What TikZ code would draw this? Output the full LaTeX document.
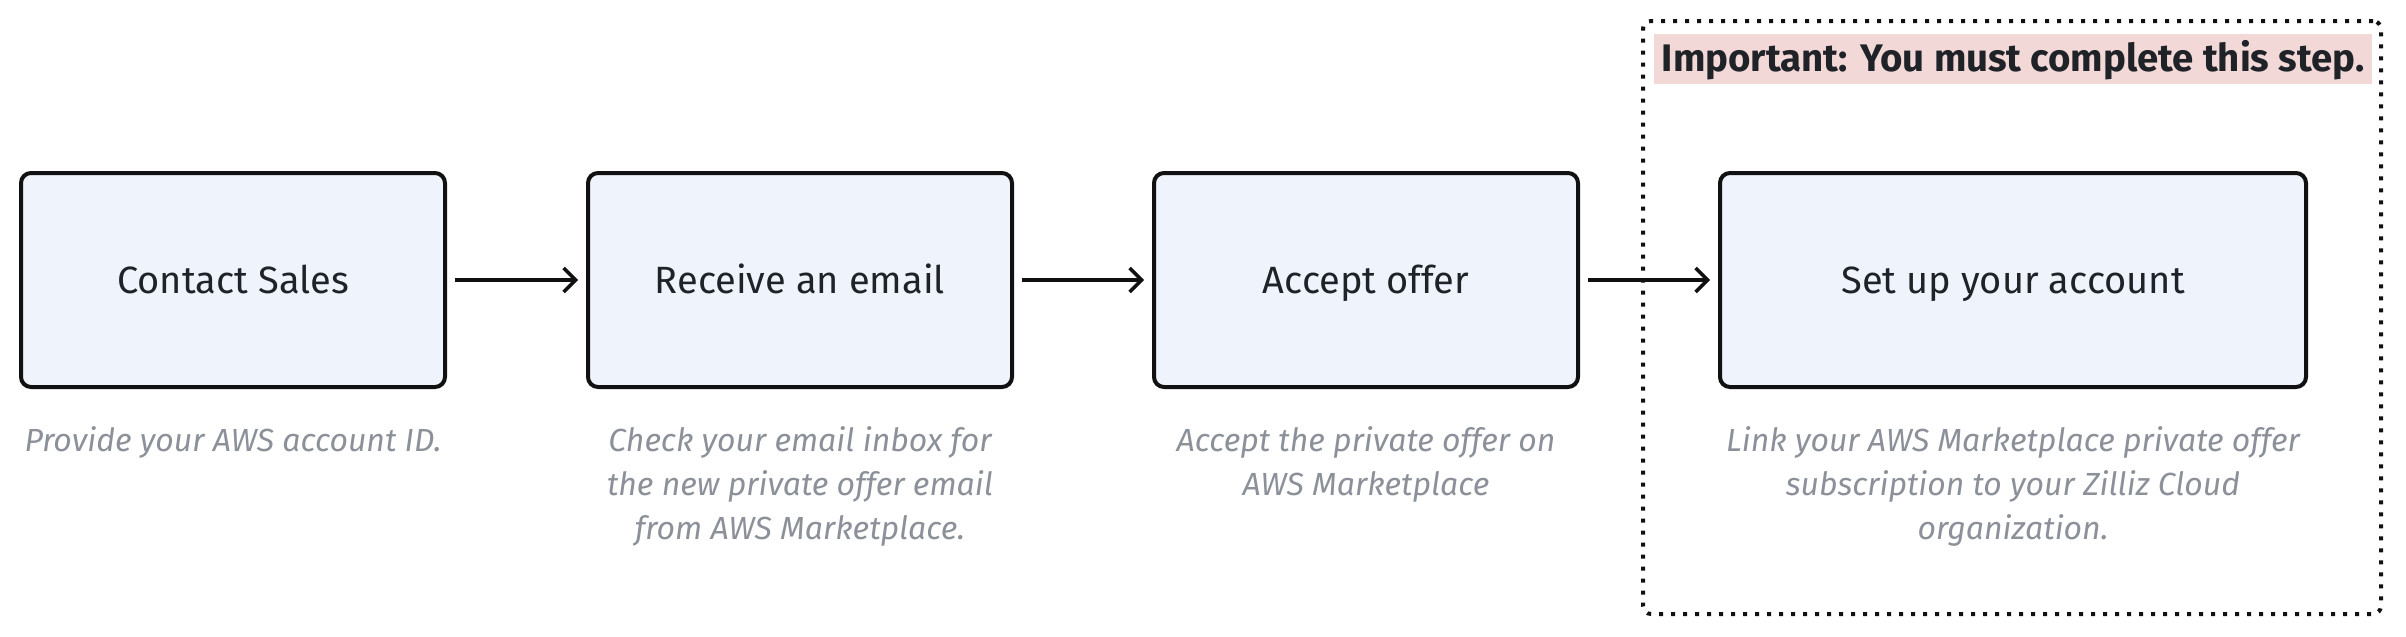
\documentclass[tikz,border=0pt]{standalone}
\usepackage{fontspec}
\setmainfont{Fira Sans}
\usetikzlibrary{arrows.meta}
\definecolor{boxfill}{HTML}{EEF3FC}
\definecolor{boxline}{HTML}{111111}
\definecolor{txt}{HTML}{1F2328}
\definecolor{desc}{HTML}{8B9099}
\definecolor{pinkbg}{HTML}{F3D8D8}
\tikzset{
  stepbox/.style={draw=boxline, line width=2pt, fill=boxfill, rounded corners=5pt,
    minimum height=107pt, text=txt, font=\fontsize{19}{23}\selectfont, inner sep=0pt,
    text height=13.1pt, text depth=0pt},
  descr/.style={text=desc, align=center, font=\itshape\fontsize{16}{22}\selectfont, inner sep=0pt},
  flow/.style={-{Straight Barb[length=6pt,width=12pt,line width=1.7pt]}, line width=1.7pt, draw=boxline, shorten >=4pt, shorten <=4pt},
  framebox/.style={draw=boxline, line width=2pt, dash pattern=on 2pt off 4pt, rounded corners=4pt, inner sep=0pt},
  warn/.style={fill=pinkbg, text=txt, font=\bfseries\fontsize{19.2}{23}\selectfont, inner sep=0pt,
    text height=13.2pt, text depth=0pt}
}
\begin{document}
\begin{tikzpicture}[x=0.5pt,y=-0.5pt]
\useasboundingbox (0,0) rectangle (2406,637);
\node[framebox, minimum width=369pt, minimum height=296.5pt] (frame) at (2012,317.5) {};
\node[warn, minimum width=359pt, minimum height=25pt] (warn) at (2013,58.5) {Important: You must complete this step.};
\node[stepbox, minimum width=212pt] (b1) at (233,280) {Contact Sales};
\node[stepbox, minimum width=212pt] (b2) at (800,280) {Receive an email};
\node[stepbox, minimum width=212pt] (b3) at (1366,280) {Accept offer};
\node[stepbox, minimum width=293pt] (b4) at (2013,280) {Set up your account};
\draw[flow] (b1) -- (b2);
\draw[flow] (b2) -- (b3);
\draw[flow] (b3) -- (b4);
\node[descr] (d1) at (233,442) {Provide your AWS account ID.};
\node[descr] (d2) at (800,486) {Check your email inbox for\\the new private offer email\\from AWS Marketplace.};
\node[descr] (d3) at (1366,464) {Accept the private offer on\\AWS Marketplace};
\node[descr] (d4) at (2013,486) {Link your AWS Marketplace private offer\\subscription to your Zilliz Cloud\\organization.};
\end{tikzpicture}
\end{document}
